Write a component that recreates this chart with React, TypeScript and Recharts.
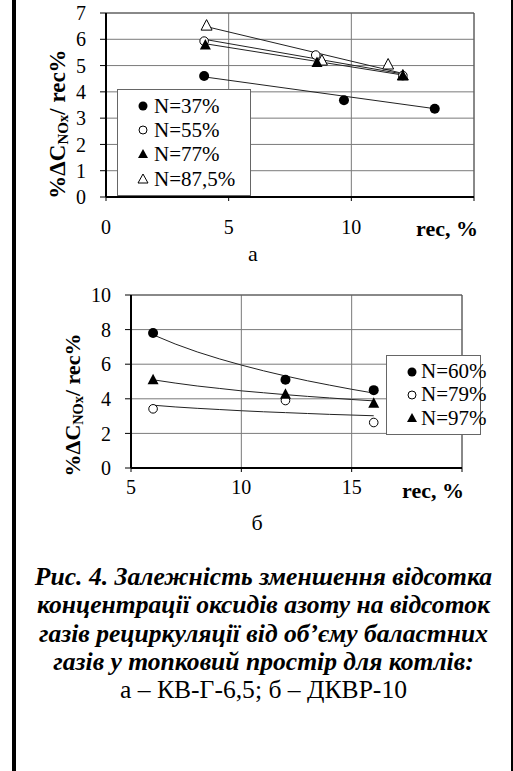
import React from 'react';
import { ScatterChart, Scatter, XAxis, YAxis, CartesianGrid, ReferenceLine } from 'recharts';

// ---- Chart a (КВ-Г-6,5) ----
const aTicksX = [0, 5, 10, 15];
const aTicksY = [0, 1, 2, 3, 4, 5, 6, 7];
const aRec37 = [4.0, 9.7, 13.4];
const aVal37 = [4.6, 3.68, 3.36];
const aRec55 = [4.0, 8.55, 12.1];
const aVal55 = [5.93, 5.4, 4.62];
const aRec77 = [4.05, 8.6, 12.1];
const aVal77 = [5.78, 5.12, 4.62];
const aRec875 = [4.1, 8.8, 11.5, 12.1];
const aVal875 = [6.52, 5.19, 5.04, 4.62];
// trend lines
const aTrRec37 = [4.0, 13.4];
const aTrVal37 = [4.57, 3.36];
const aTrRec55 = [4.0, 12.1];
const aTrVal55 = [6.0, 4.68];
const aTrRec77 = [4.05, 12.1];
const aTrVal77 = [5.83, 4.64];
const aTrRec875 = [4.1, 12.1];
const aTrVal875 = [6.48, 4.7];
const aLegend = ['N=37%', 'N=55%', 'N=77%', 'N=87,5%'];

// ---- Chart б (ДКВР-10) ----
const bTicksX = [5, 10, 15, 20];
const bTicksY = [0, 2, 4, 6, 8, 10];
const bRec = [6, 12, 16];
const bVal60 = [7.8, 5.1, 4.5];
const bVal79 = [3.42, 3.9, 2.63];
const bVal97 = [5.1, 4.27, 3.75];
const bTrRec = [6, 7, 8, 9, 10, 11, 12, 13, 14, 15, 16];
const bTrVal60 = [7.7, 7.17, 6.71, 6.31, 5.95, 5.62, 5.32, 5.04, 4.79, 4.55, 4.33];
const bTrVal79 = [3.63, 3.53, 3.45, 3.38, 3.31, 3.25, 3.2, 3.15, 3.1, 3.06, 3.02];
const bTrVal97 = [5.1, 4.91, 4.74, 4.6, 4.46, 4.35, 4.24, 4.14, 4.05, 3.96, 3.88];
const bLegend = ['N=60%', 'N=79%', 'N=97%'];

const zip = (xs: number[], ys: number[]) => xs.map((x, i) => ({ x, y: ys[i] }));

const FONT = "'Liberation Serif', 'Times New Roman', Tinos, 'DejaVu Serif', serif";

const FilledCircle = (p: any) => <circle cx={p.cx} cy={p.cy} r={5} fill="#000" />;
const OpenCircle = (p: any) => <circle cx={p.cx} cy={p.cy} r={4.3} fill="#fff" stroke="#000" strokeWidth={1} />;
const FilledTri = (p: any) => (
  <polygon points={`${p.cx},${p.cy - 6} ${p.cx - 5.5},${p.cy + 4.5} ${p.cx + 5.5},${p.cy + 4.5}`} fill="#000" />
);
const OpenTri = (p: any) => (
  <polygon points={`${p.cx},${p.cy - 6} ${p.cx - 5.5},${p.cy + 4.5} ${p.cx + 5.5},${p.cy + 4.5}`} fill="#fff" stroke="#000" strokeWidth={1} />
);
const NoShape = () => <g />;

const tickStyle = { fontFamily: FONT, fontSize: 20, fill: '#000' };
const trendLine = { stroke: '#222', strokeWidth: 1 };

const markerIcon = (kind: string) => {
  const s = 14;
  const c = 7;
  if (kind === 'fc') return <svg width={s} height={s}><circle cx={c} cy={c} r={4.5} fill="#000" /></svg>;
  if (kind === 'oc') return <svg width={s} height={s}><circle cx={c} cy={c} r={4} fill="#fff" stroke="#000" /></svg>;
  if (kind === 'ft') return <svg width={s} height={s}><polygon points={`${c},${c - 5} ${c - 5},${c + 4} ${c + 5},${c + 4}`} fill="#000" /></svg>;
  return <svg width={s} height={s}><polygon points={`${c},${c - 5} ${c - 5},${c + 4} ${c + 5},${c + 4}`} fill="#fff" stroke="#000" /></svg>;
};

const YTitle = ({ cx, cy, size }: { cx: number; cy: number; size: number }) => (
  <text
    x={cx}
    y={cy}
    transform={`rotate(-90 ${cx} ${cy})`}
    textAnchor="middle"
    dominantBaseline="central"
    style={{ fontFamily: FONT, fontWeight: 'bold', fontSize: size }}
    fill="#000"
  >
    <tspan>%ΔC</tspan>
    <tspan style={{ fontSize: size * 0.65 }} dy={size * 0.25}>NOx</tspan>
    <tspan dy={-size * 0.25}>/ rec%</tspan>
  </text>
);

const ChartA = () => (
  <ScatterChart width={513} height={250} margin={{ top: 13, right: 39, bottom: 0, left: 0 }}>
    <CartesianGrid stroke="#7a7a7a" strokeWidth={1} />
    <XAxis
      type="number"
      dataKey="x"
      domain={[0, 15]}
      ticks={aTicksX}
      interval={0}
      tickFormatter={(v: number) => (v === 15 ? '' : String(v))}
      tick={tickStyle}
      tickSize={4}
      tickMargin={19}
      height={53}
      axisLine={{ stroke: '#000', strokeWidth: 2 }}
      tickLine={{ stroke: '#000' }}
    />
    <YAxis
      type="number"
      dataKey="y"
      domain={[0, 7]}
      ticks={aTicksY}
      interval={0}
      tick={tickStyle}
      tickSize={6}
      tickMargin={14}
      width={106}
      axisLine={{ stroke: '#000', strokeWidth: 2 }}
      tickLine={{ stroke: '#000' }}
    />
    <ReferenceLine y={7} stroke="#555" />
    <ReferenceLine x={15} stroke="#555" />
    <Scatter data={zip(aTrRec37, aTrVal37)} line={trendLine} shape={NoShape} isAnimationActive={false} />
    <Scatter data={zip(aTrRec55, aTrVal55)} line={trendLine} shape={NoShape} isAnimationActive={false} />
    <Scatter data={zip(aTrRec77, aTrVal77)} line={trendLine} shape={NoShape} isAnimationActive={false} />
    <Scatter data={zip(aTrRec875, aTrVal875)} line={trendLine} shape={NoShape} isAnimationActive={false} />
    <Scatter data={zip(aRec875, aVal875)} shape={OpenTri} isAnimationActive={false} />
    <Scatter data={zip(aRec55, aVal55)} shape={OpenCircle} isAnimationActive={false} />
    <Scatter data={zip(aRec77, aVal77)} shape={FilledTri} isAnimationActive={false} />
    <Scatter data={zip(aRec37, aVal37)} shape={FilledCircle} isAnimationActive={false} />
  </ScatterChart>
);

const ChartB = () => (
  <ScatterChart width={513} height={250} margin={{ top: 35, right: 51, bottom: 0, left: 0 }}>
    <CartesianGrid stroke="#7a7a7a" strokeWidth={1} />
    <XAxis
      type="number"
      dataKey="x"
      domain={[5, 20]}
      ticks={bTicksX}
      interval={0}
      tickFormatter={(v: number) => (v === 20 ? '' : String(v))}
      tick={tickStyle}
      tickSize={4}
      tickMargin={8}
      height={42}
      axisLine={{ stroke: '#000', strokeWidth: 2 }}
      tickLine={{ stroke: '#000' }}
    />
    <YAxis
      type="number"
      dataKey="y"
      domain={[0, 10]}
      ticks={bTicksY}
      interval={0}
      tick={tickStyle}
      tickSize={6}
      tickMargin={14}
      width={131}
      axisLine={{ stroke: '#000', strokeWidth: 2 }}
      tickLine={{ stroke: '#000' }}
    />
    <ReferenceLine y={10} stroke="#555" />
    <ReferenceLine x={20} stroke="#555" />
    <Scatter data={zip(bTrRec, bTrVal60)} line={trendLine} shape={NoShape} isAnimationActive={false} />
    <Scatter data={zip(bTrRec, bTrVal79)} line={trendLine} shape={NoShape} isAnimationActive={false} />
    <Scatter data={zip(bTrRec, bTrVal97)} line={trendLine} shape={NoShape} isAnimationActive={false} />
    <Scatter data={zip(bRec, bVal79)} shape={OpenCircle} isAnimationActive={false} />
    <Scatter data={zip(bRec, bVal97)} shape={FilledTri} isAnimationActive={false} />
    <Scatter data={zip(bRec, bVal60)} shape={FilledCircle} isAnimationActive={false} />
  </ScatterChart>
);

const LegendBox = ({ left, top, width, items, kinds, rowH }: any) => (
  <div
    style={{
      position: 'absolute',
      left,
      top,
      width,
      background: '#fff',
      border: '1px solid #666',
      boxSizing: 'border-box',
      padding: '4px 0 4px 0',
      fontFamily: FONT,
      fontSize: 21,
      color: '#000',
    }}
  >
    {items.map((t: string, i: number) => (
      <div key={t} style={{ height: rowH, lineHeight: rowH + 'px', display: 'flex', alignItems: 'center', paddingLeft: 18 }}>
        <span style={{ display: 'inline-flex', width: 16 }}>{markerIcon(kinds[i])}</span>
        <span style={{ marginLeft: 2 }}>{t}</span>
      </div>
    ))}
  </div>
);

export default function App() {
  return (
    <div
      style={{
        position: 'absolute',
        left: 0,
        top: 0,
        width: 513,
        height: 771,
        background: '#fff',
        overflow: 'hidden',
        fontFamily: FONT,
      }}
    >
      <div style={{ position: 'absolute', left: 12, top: 0, width: 4, height: 771, background: '#000' }} />
      <div style={{ position: 'absolute', left: 511, top: 0, width: 2, height: 771, background: '#000' }} />

      <div style={{ position: 'absolute', left: 0, top: 0 }}>
        <ChartA />
      </div>
      <div style={{ position: 'absolute', left: 0, top: 260 }}>
        <ChartB />
      </div>

      <LegendBox left={117} top={89} width={134} items={aLegend} kinds={['fc', 'oc', 'ft', 'ot']} rowH={24.2} />
      <LegendBox left={386} top={355} width={95} items={bLegend} kinds={['fc', 'oc', 'ft']} rowH={23.3} />

      <svg width={513} height={771} style={{ position: 'absolute', left: 0, top: 0, pointerEvents: 'none' }}>
        <YTitle cx={57} cy={124} size={23} />
        <YTitle cx={72} cy={405} size={22} />
        <text x={447} y={228} textAnchor="middle" dominantBaseline="central" style={{ fontFamily: FONT, fontWeight: 'bold', fontSize: 22 }}>rec, %</text>
        <text x={433} y={490} textAnchor="middle" dominantBaseline="central" style={{ fontFamily: FONT, fontWeight: 'bold', fontSize: 22 }}>rec, %</text>
        <text x={253} y={253} textAnchor="middle" dominantBaseline="central" style={{ fontFamily: FONT, fontSize: 22 }}>а</text>
        <text x={257} y={522} textAnchor="middle" dominantBaseline="central" style={{ fontFamily: FONT, fontSize: 22 }}>б</text>
      </svg>

      <div
        style={{
          position: 'absolute',
          left: 16,
          top: 563,
          width: 495,
          textAlign: 'center',
          fontFamily: FONT,
          fontSize: 25.6,
          lineHeight: '28.3px',
          color: '#000',
          whiteSpace: 'nowrap',
        }}
      >
        <div style={{ fontWeight: 'bold', fontStyle: 'italic' }}>Рис. 4. Залежність зменшення відсотка</div>
        <div style={{ fontWeight: 'bold', fontStyle: 'italic' }}>концентрації оксидів азоту на відсоток</div>
        <div style={{ fontWeight: 'bold', fontStyle: 'italic' }}>газів рециркуляції від об’єму баластних</div>
        <div style={{ fontWeight: 'bold', fontStyle: 'italic' }}>газів у топковий простір для котлів:</div>
        <div>а – КВ-Г-6,5; б – ДКВР-10</div>
      </div>
    </div>
  );
}
